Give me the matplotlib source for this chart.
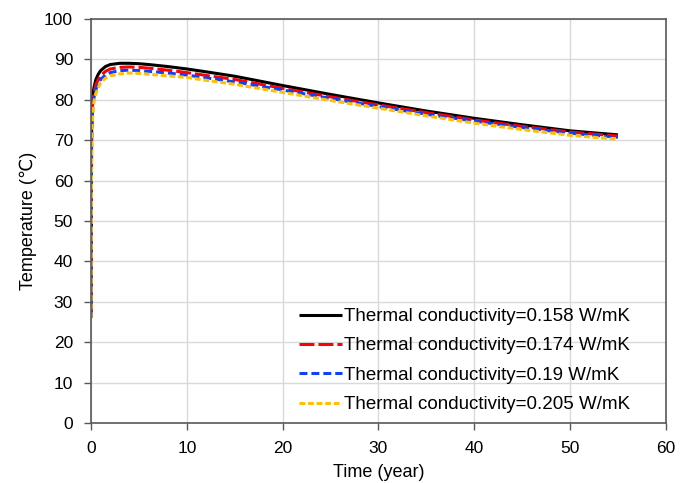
import matplotlib
matplotlib.use("Agg")
import matplotlib.pyplot as plt

plt.rcParams['font.family'] = ['Liberation Sans', 'DejaVu Sans']

time_years = [0, 0.05, 0.1, 0.2, 0.3, 0.5, 0.75, 1, 1.5, 2, 3, 4, 5, 6, 8, 10,
              12, 15, 20, 25, 30, 35, 40, 45, 50, 55]
temp_0158 = [26, 72, 79, 81.5, 83, 85, 86.3, 87.2, 88.2, 88.7, 89.0, 89.0, 88.9, 88.7,
             88.2, 87.6, 86.9, 85.8, 83.5, 81.3, 79.2, 77.2, 75.4, 73.8, 72.3, 71.3]
temp_0174 = [26, 70, 77, 80, 81.8, 83.7, 85.0, 86.0, 87.0, 87.6, 88.0, 88.1, 88.0, 87.8,
             87.3, 86.7, 86.0, 85.0, 82.8, 80.7, 78.7, 76.8, 75.0, 73.4, 72.0, 71.0]
temp_0190 = [26, 68, 75, 78.5, 80.5, 82.5, 84, 85.0, 86.1, 86.7, 87.2, 87.3, 87.2, 87.0,
             86.6, 86.1, 85.4, 84.4, 82.4, 80.3, 78.3, 76.4, 74.7, 73.1, 71.7, 70.7]
temp_0205 = [26, 66, 73, 77, 79.5, 81.5, 83, 84.2, 85.3, 85.9, 86.4, 86.6, 86.5, 86.3,
             85.9, 85.5, 84.8, 83.8, 81.8, 79.8, 77.9, 76.0, 74.2, 72.6, 71.2, 70.2]
labels = ["Thermal conductivity=0.158 W/mK",
          "Thermal conductivity=0.174 W/mK",
          "Thermal conductivity=0.19 W/mK",
          "Thermal conductivity=0.205 W/mK"]

fig = plt.figure(figsize=(6.9, 4.83), dpi=100)
ax = fig.add_axes([0.132, 0.124, 0.833, 0.837])

lw = 2.2
ax.plot(time_years, temp_0158, color='black', lw=lw, solid_capstyle='butt', label=labels[0])
ax.plot(time_years, temp_0174, color='#FF0000', lw=lw, dashes=(4.9, 1.3), label=labels[1])
ax.plot(time_years, temp_0190, color='#1040FF', lw=lw, dashes=(2.6, 1.3), label=labels[2])
ax.plot(time_years, temp_0205, color='#FFC000', lw=lw, dashes=(1.9, 0.9), label=labels[3])

ax.set_xlim(0, 60)
ax.set_ylim(0, 100)
ax.set_xticks(range(0, 61, 10))
ax.set_yticks(range(0, 101, 10))
ax.grid(True, color='#d9d9d9', lw=1)
ax.set_axisbelow(True)
for s in ax.spines.values():
    s.set_color('#595959')
    s.set_linewidth(1.2)
ax.tick_params(direction='out', length=5, width=1, color='#595959', labelsize=12.5)
ax.tick_params(axis='y', pad=8)
ax.tick_params(axis='x', pad=8)
ax.set_xlabel('Time (year)', fontsize=13, labelpad=6)
ax.set_ylabel('Temperature (℃)', fontsize=13, labelpad=5)

ax.legend(loc='lower right', frameon=False, fontsize=13.5, handlelength=2.3,
          handletextpad=0.15, labelspacing=0.65, bbox_to_anchor=(0.968, -0.017))

fig.savefig('out.png', dpi=100)
